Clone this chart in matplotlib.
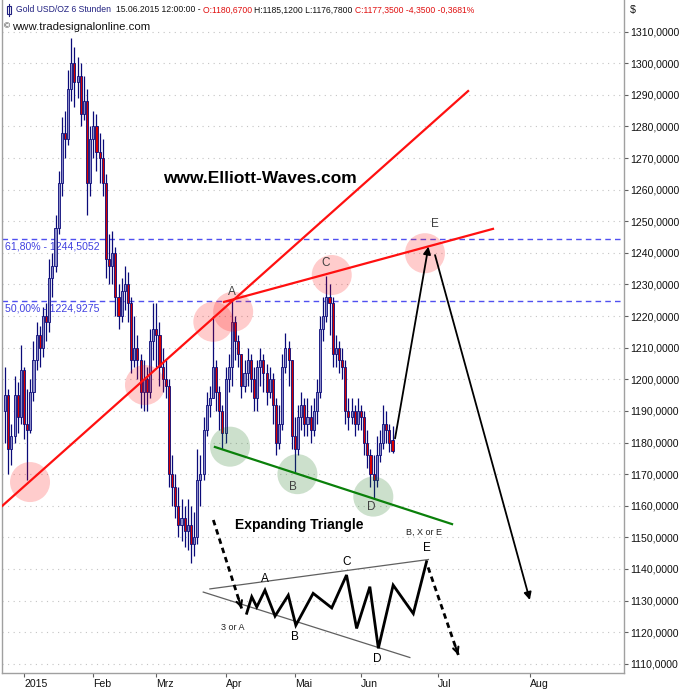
import numpy as np
import matplotlib
matplotlib.use('Agg')
import matplotlib.pyplot as plt
from matplotlib.ticker import FixedLocator, FuncFormatter

plt.rcParams['font.family'] = ['Liberation Sans', 'DejaVu Sans']

# ---------------- data (daily bars; x = trading-day index, 0 = 1 Jan 2015) --------
day_index = list(range(-6, 118))
opens = [1190, 1195, 1178, 1182, 1195, 1188,
         1203, 1186, 1184, 1196, 1206, 1214, 1210, 1220, 1218, 1232,
         1236, 1248, 1262, 1278, 1276, 1292, 1300, 1294, 1296, 1284,
         1288, 1262, 1276, 1280, 1272, 1270, 1262, 1238, 1236, 1240,
         1226, 1220, 1228, 1230, 1224, 1206, 1210, 1206, 1196, 1200,
         1196, 1212, 1216, 1214, 1204, 1200, 1198, 1170, 1166, 1160,
         1154, 1156, 1152, 1154, 1148, 1150, 1168, 1170, 1184, 1192,
         1194, 1204, 1196, 1190, 1183, 1200, 1204, 1218, 1212, 1208,
         1198, 1202, 1206, 1200, 1194, 1204, 1206, 1202, 1196, 1200,
         1192, 1180, 1186, 1204, 1210, 1206, 1182, 1178, 1188, 1192,
         1186, 1188, 1184, 1190, 1196, 1216, 1220, 1226, 1224, 1208,
         1210, 1206, 1204, 1190, 1188, 1190, 1186, 1190, 1188, 1180,
         1176, 1170, 1168, 1176, 1180, 1186, 1184, 1180.67]
highs = [1204, 1197, 1186, 1201, 1199, 1211,
         1204, 1197, 1200, 1212, 1218, 1217, 1223, 1224, 1238, 1240,
         1252, 1266, 1283, 1285, 1298, 1308, 1305, 1302, 1300, 1296,
         1292, 1280, 1285, 1284, 1278, 1276, 1265, 1246, 1247, 1242,
         1230, 1232, 1236, 1234, 1226, 1220, 1214, 1208, 1206, 1204,
         1216, 1224, 1224, 1218, 1210, 1206, 1200, 1176, 1170, 1166,
         1162, 1160, 1162, 1160, 1158, 1178, 1176, 1188, 1196, 1198,
         1220, 1206, 1198, 1192, 1204, 1208, 1224.8, 1220, 1214, 1208,
         1206, 1210, 1208, 1204, 1206, 1210, 1208, 1205, 1204, 1202,
         1194, 1192, 1208, 1214.8, 1212, 1206, 1188, 1192, 1196, 1194,
         1194, 1192, 1194, 1200, 1220, 1226, 1232.8, 1230, 1226, 1214,
         1212, 1210, 1206, 1194, 1194, 1192, 1194, 1192, 1190, 1184,
         1178, 1176, 1182, 1184, 1192, 1190, 1186, 1185.12]
lows = [1180, 1170, 1173, 1180, 1183, 1186,
        1181, 1168, 1183, 1193, 1203, 1204, 1207, 1212, 1215, 1226,
        1234, 1246, 1258, 1270, 1274, 1288, 1286, 1289, 1280, 1282,
        1252, 1258, 1270, 1266, 1262, 1258, 1232, 1230, 1230, 1220,
        1216, 1218, 1222, 1218, 1202, 1204, 1200, 1191, 1190, 1190,
        1194, 1206, 1204, 1198, 1196, 1194, 1166, 1160, 1156, 1150,
        1149, 1147, 1146, 1142, 1144, 1148, 1160, 1168, 1182, 1188,
        1194, 1190, 1184, 1178, 1180, 1196, 1198, 1206, 1204, 1194,
        1196, 1198, 1196, 1190, 1190, 1198, 1196, 1192, 1194, 1186,
        1176, 1178, 1184, 1202, 1198, 1178, 1170.5, 1176, 1184, 1182,
        1182, 1180, 1182, 1186, 1194, 1212, 1218, 1214, 1204, 1204,
        1202, 1200, 1186, 1184, 1186, 1182, 1184, 1184, 1176, 1172,
        1166, 1162.2, 1166, 1174, 1178, 1180, 1177, 1176.78]
closes = [1195, 1178, 1182, 1195, 1188, 1203,
          1186, 1184, 1196, 1206, 1214, 1210, 1220, 1218, 1232, 1236,
          1248, 1262, 1278, 1276, 1292, 1300, 1294, 1296, 1284, 1288,
          1262, 1276, 1280, 1272, 1270, 1262, 1238, 1236, 1240, 1226,
          1220, 1228, 1230, 1224, 1206, 1210, 1206, 1196, 1200, 1196,
          1212, 1216, 1214, 1204, 1200, 1198, 1170, 1166, 1160, 1154,
          1156, 1152, 1154, 1148, 1150, 1168, 1170, 1184, 1192, 1194,
          1204, 1196, 1190, 1183, 1200, 1204, 1218, 1212, 1208, 1198,
          1202, 1206, 1200, 1194, 1204, 1206, 1202, 1196, 1200, 1192,
          1180, 1186, 1204, 1210, 1206, 1182, 1178, 1188, 1192, 1186,
          1188, 1184, 1190, 1196, 1216, 1220, 1226, 1224, 1208, 1210,
          1206, 1204, 1190, 1188, 1190, 1186, 1190, 1188, 1180, 1176,
          1170, 1168, 1176, 1180, 1186, 1184, 1180, 1177.35]

month_pos = [0, 22, 42, 64, 86, 107, 131.4, 160.6]
month_labels = ['2015', 'Feb', 'Mrz', 'Apr', 'Mai', 'Jun', 'Jul', 'Aug']
price_ticks = list(range(1110, 1311, 10))

fib_levels = [1244.5052, 1224.9275]
fib_labels = ['61,80% - 1244,5052', '50,00% - 1224,9275']

red_line1_x = [-7.0, 141.0]
red_line1_y = [1159.9, 1291.2]
red_line2_x = [63.5, 148.9]
red_line2_y = [1224.5, 1247.6]
green_line_x = [60.6, 135.9]
green_line_y = [1178.6, 1154.2]

pink_x = [1.9, 38.4, 60.1, 66.4, 97.7, 127.3]
pink_y = [1167.5, 1198.2, 1218.2, 1221.4, 1233.0, 1239.9]
green_x = [65.4, 86.8, 110.9]
green_y = [1178.7, 1170.0, 1162.9]

wave_labels = ['A', 'B', 'C', 'D', 'E']
wave_x = [65.9, 85.3, 95.6, 110.1, 130.5]
wave_y = [1227.7, 1165.8, 1236.7, 1159.7, 1249.1]

proj_x = [117.8, 128.4, 130.5, 160.6]
proj_y = [1181.3, 1242.0, 1239.3, 1130.2]

# schematic expanding triangle
tri_x = [70.7, 72.3, 73.9, 76.5, 79.7, 83.9, 86.3, 91.8, 97.7, 102.4,
         105.6, 109.8, 112.5, 117.2, 123.6, 127.8]
tri_y = [1126.0, 1131.2, 1128.0, 1133.3, 1125.1, 1131.7, 1122.2, 1132.3,
         1127.7, 1138.1, 1121.2, 1134.4, 1114.9, 1134.9, 1125.9, 1142.3]
tri_upper_x = [59.0, 128.4]
tri_upper_y = [1133.7, 1143.0]
tri_lower_x = [56.9, 122.5]
tri_lower_y = [1132.7, 1112.0]
tri_labels = ['A', 'B', 'C', 'D', 'E']
tri_lab_x = [76.5, 86.0, 102.4, 112.2, 127.8]
tri_lab_y = [1136.7, 1118.4, 1142.3, 1111.5, 1146.5]
dash_in_x = [60.1, 69.1]
dash_in_y = [1155.5, 1127.5]
dash_out_x = [128.3, 137.9]
dash_out_y = [1140.5, 1112.8]

# ---------------- figure ----------------
W, H = 683, 693
fig = plt.figure(figsize=(W / 100, H / 100), dpi=100)
ax = fig.add_axes([2 / W, 20 / H, 622 / W, 673 / H])
ax.set_xlim(-7.0, 190.5)
ax.set_ylim(1107.1, 1320.0)

navy = '#0a0a78'
ax.grid(False)
for v in price_ticks:
    ax.axhline(v, color='#c4c4c4', lw=0.8, ls=(0, (1, 4)), zorder=0)

# candles
x = np.array(day_index, dtype=float)
o = np.array(opens); h = np.array(highs); l = np.array(lows); c = np.array(closes)
ax.vlines(x, l, h, color=navy, lw=0.9, zorder=3)
up = c >= o
body_bottom = np.minimum(o, c)
body_h = np.maximum(np.abs(c - o), 0.4)
ax.bar(x[up], body_h[up], bottom=body_bottom[up], width=0.66, color='#8c8cc8',
       edgecolor=navy, linewidth=0.6, zorder=4)
ax.bar(x[~up], body_h[~up], bottom=body_bottom[~up], width=0.66, color='#d80000',
       edgecolor=navy, linewidth=0.6, zorder=4)

# fibonacci levels
for lv, lab in zip(fib_levels, fib_labels):
    ax.axhline(lv, color='#5050f0', lw=1.0, ls=(0, (4, 3)), zorder=2)
    ax.annotate(lab, xy=(0, lv), xycoords=('axes fraction', 'data'), xytext=(2, -2),
                textcoords='offset points', ha='left', va='top', color='#4040e0', fontsize=7.6)

# circles
ax.scatter(pink_x, pink_y, s=830, color=(1.0, 0.0, 0.0, 0.2), edgecolors='none', zorder=5)
ax.scatter(green_x, green_y, s=830, color=(0.1, 0.45, 0.1, 0.22), edgecolors='none', zorder=5)

# trend lines
ax.plot(red_line1_x, red_line1_y, color='#ff1010', lw=1.6, zorder=6)
ax.plot(red_line2_x, red_line2_y, color='#ff1010', lw=1.6, zorder=6)
ax.plot(green_line_x, green_line_y, color='#0a800a', lw=1.6, zorder=6)

for t, xx, yy in zip(wave_labels, wave_x, wave_y):
    ax.text(xx, yy, t, ha='center', va='center', fontsize=8.5, color='#404040', zorder=7)

# projection arrows
ax.annotate('', xy=(proj_x[1], proj_y[1]), xytext=(proj_x[0], proj_y[0]),
            arrowprops=dict(arrowstyle='-|>', color='black', lw=1.3, mutation_scale=11,
                            shrinkA=0, shrinkB=0), zorder=8)
ax.annotate('', xy=(proj_x[3], proj_y[3]), xytext=(proj_x[2], proj_y[2]),
            arrowprops=dict(arrowstyle='-|>', color='black', lw=1.3, mutation_scale=11,
                            shrinkA=0, shrinkB=0), zorder=8)

ax.text(74.9, 1263.6, 'www.Elliott-Waves.com', ha='center', va='center',
        fontsize=12.5, fontweight='bold', color='black')
ax.text(87.4, 1153.9, 'Expanding Triangle', ha='center', va='center',
        fontsize=10, fontweight='bold', color='black')
ax.text(127.1, 1151.5, 'B, X or E', ha='center', va='center', fontsize=6.5, color='#222222')
ax.text(66.2, 1121.4, '3 or A', ha='center', va='center', fontsize=6.5, color='#222222')

# schematic triangle
ax.plot(tri_upper_x, tri_upper_y, color='#606060', lw=0.9)
ax.plot(tri_lower_x, tri_lower_y, color='#606060', lw=0.9)
ax.plot(tri_x, tri_y, color='black', lw=2.0, solid_joinstyle='miter')
for t, xx, yy in zip(tri_labels, tri_lab_x, tri_lab_y):
    ax.text(xx, yy, t, ha='center', va='center', fontsize=8.5, color='black')
for dx, dy in ((dash_in_x, dash_in_y), (dash_out_x, dash_out_y)):
    ax.plot(dx, dy, color='black', lw=2.0, ls=(0, (2, 1.5)))
    ax.annotate('', xy=(dx[1], dy[1]), xytext=(dx[1] - 0.1 * (dx[1] - dx[0]), dy[1] - 0.1 * (dy[1] - dy[0])),
                arrowprops=dict(arrowstyle='->', color='black', lw=1.5, mutation_scale=10,
                                shrinkA=0, shrinkB=0))

# axes styling
for side in ('left', 'bottom', 'right'):
    ax.spines[side].set_color('#a0a0a0')
    ax.spines[side].set_linewidth(1.0)
ax.spines['top'].set_visible(False)
ax.yaxis.tick_right()
ax.yaxis.set_major_locator(FixedLocator(price_ticks))
ax.yaxis.set_major_formatter(FuncFormatter(lambda v, p: f'{v:.4f}'.replace('.', ',')))
ax.tick_params(axis='y', length=3, width=0.8, color='#606060', labelsize=7.6, pad=1.5,
               labelcolor='#111111')
ax.xaxis.set_major_locator(FixedLocator(month_pos))
ax.set_xticklabels(month_labels)
ax.tick_params(axis='x', length=3, width=0.8, color='#606060', labelsize=7.6, pad=1,
               labelcolor='#111111')
for lab in ax.get_xticklabels():
    lab.set_ha('left')

# header
def px(xp, yp):
    return xp / W, 1 - yp / H

fig.text(*px(630, 10), '$', fontsize=7.6, va='center', ha='left', color='#111111')
hdr_parts = [('Gold USD/OZ 6 Stunden  ', '#202080'),
             ('15.06.2015 12:00:00 - ', '#111111'),
             ('O:1180,6700 ', '#e01010'),
             ('H:1185,1200 L:1176,7800 ', '#111111'),
             ('C:1177,3500 -4,3500 -0,3681%', '#e01010')]
hdr_size = 6.2
prev = fig.text(*px(16, 10), hdr_parts[0][0], fontsize=hdr_size, color=hdr_parts[0][1],
                va='center', ha='left')
for txt, col in hdr_parts[1:]:
    prev = ax.annotate(txt, xy=(1, 0), xycoords=prev, ha='left', va='bottom',
                       fontsize=hdr_size, color=col)
# candle icon
fig.add_artist(plt.Line2D([8.5 / W, 8.5 / W], [1 - 4 / H, 1 - 16 / H], color='#202080', lw=0.8))
fig.add_artist(plt.Rectangle((6.5 / W, 1 - 14 / H), 4 / W, 8 / H, facecolor='white',
                             edgecolor='#202080', lw=0.8))
fig.text(*px(4, 27), '\u00a9', fontsize=6, va='center', ha='left', color='#111111')
fig.text(*px(12, 27), 'www.tradesignalonline.com', fontsize=8.2, va='center', ha='left',
         color='#111111')

fig.savefig('out.png', dpi=100)
